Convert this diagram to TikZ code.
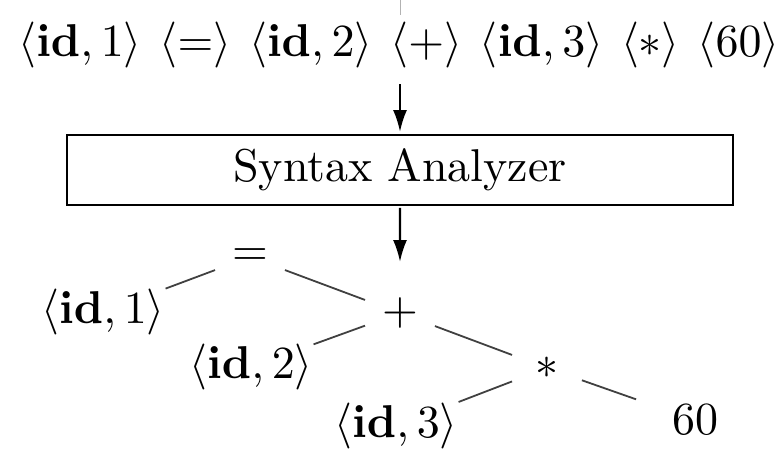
\documentclass[tikz,border=0pt]{standalone}
\usepackage{tikz}
\usetikzlibrary{arrows.meta}
\newcommand\PixelUnit{0.5pt}
\newcommand\TextScaling{2.3}
\newcommand\GroupGap{3.9pt}
\tikzset{
  phase/.style={
    draw,
    line width = 1.3pt,
    minimum width = 144.8pt,
    minimum height = 15.2pt,
    inner sep = 0pt
  },
  flow/.style={
    line width = 1.2pt,
    -{Latex[length=11pt,width=7pt]}
  },
  op/.style={
    inner sep = 0pt,
    minimum width = 14.8pt,
    minimum height = 7.8pt
  },
  leaf/.style={
    inner sep = 0pt,
    minimum height = 11.3pt
  },
  branch/.style={
    line width = 0.9pt,
    black!75
  },
  faint/.style={
    thin,
    black!30
  }
}
\newcommand{\tok}[1]{\langle #1\rangle}

\begin{document}
\begin{tikzpicture}[x=\PixelUnit, y=-\PixelUnit, font=\fontsize{10}{12}\selectfont,
                    every node/.append style={scale=\TextScaling}]
         \useasboundingbox (0,0) rectangle (784,451);

         \node[] (tokens) at (399,45) {$\tok{\mathbf{id},1}$\hspace{\GroupGap}$\tok{=}$\hspace{\GroupGap}$\tok{\mathbf{id},2}$\hspace{\GroupGap}$\tok{+}$\hspace{\GroupGap}$\tok{\mathbf{id},3}$\hspace{\GroupGap}$\tok{*}$\hspace{\GroupGap}$\tok{60}$};
         \coordinate (cut) at (400,0);
         \coordinate (cutend) at (400,15);
         \draw[faint] (cut) -- (cutend);

         \node[phase] (parser) at (400,170) {Syntax Analyzer};
         \coordinate (tree) at (400,262);
         \draw[flow] (tokens.south -| parser.north) -- (parser.north);
         \draw[flow] (parser) -- (tree);

         \node[op] (eq) at (250,257) {$=$};
         \node[leaf] (id1) at (103,312) {$\tok{\mathbf{id},1}$};
         \node[op] (plus) at (400,313) {$+$};
         \node[leaf] (id2) at (251,367) {$\tok{\mathbf{id},2}$};
         \node[op] (star) at (547,368) {$*$};
         \node[leaf] (id3) at (396,426) {$\tok{\mathbf{id},3}$};
         \node[leaf, inner xsep=7.6pt] (sixty) at (695,420) {$60$};

         \draw[branch] (eq) -- (id1);
         \draw[branch] (eq) -- (plus);
         \draw[branch] (plus) -- (id2);
         \draw[branch] (plus) -- (star);
         \draw[branch] (star) -- (id3);
         \draw[branch] (star) -- (sixty);
\end{tikzpicture}
\end{document}
